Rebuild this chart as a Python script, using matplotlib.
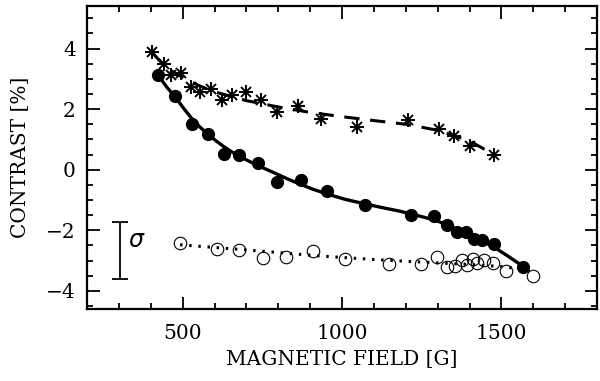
import numpy as np
import matplotlib.pyplot as plt
from matplotlib.ticker import MultipleLocator

# asterisks (dashed trend)
star_b = [403, 442, 463, 495, 525, 555, 589, 624, 654, 698, 746, 795, 861, 934,
          1046, 1206, 1304, 1352, 1402, 1478]
star_c = [3.88, 3.50, 3.11, 3.20, 2.73, 2.58, 2.65, 2.31, 2.47, 2.56, 2.29, 1.92,
          2.09, 1.68, 1.41, 1.65, 1.33, 1.11, 0.78, 0.49]
dash_b = [403, 450, 500, 550, 600, 700, 800, 900, 1000, 1100, 1200, 1300, 1400, 1478]
dash_c = [3.88, 3.35, 3.05, 2.78, 2.57, 2.28, 2.07, 1.89, 1.75, 1.62, 1.50, 1.30,
          0.95, 0.49]

# filled circles (solid trend)
fill_b = [424, 476, 528, 581, 631, 678, 735, 797, 871, 952, 1072, 1215, 1290,
          1330, 1360, 1388, 1414, 1438, 1477, 1569]
fill_c = [3.11, 2.42, 1.52, 1.19, 0.53, 0.50, 0.23, -0.41, -0.33, -0.71, -1.16,
          -1.51, -1.53, -1.82, -2.06, -2.06, -2.28, -2.33, -2.47, -3.21]
solid_b = [424, 450, 478, 505, 528, 555, 581, 605, 628, 655, 680, 710, 737, 765,
           795, 830, 871, 910, 952, 1010, 1072, 1125, 1181, 1235, 1290, 1340, 1388,
           1430, 1477, 1520, 1569]
solid_c = [3.10, 2.73, 2.38, 2.00, 1.70, 1.40, 1.15, 0.95, 0.77, 0.58, 0.43, 0.27,
           0.13, 0.00, -0.14, -0.31, -0.49, -0.65, -0.80, -0.98, -1.13, -1.25,
           -1.37, -1.51, -1.66, -1.86, -2.09, -2.30, -2.56, -2.85, -3.20]

# open circles (dotted trend)
open_b = [492, 607, 677, 753, 824, 910, 1009, 1147, 1248, 1297, 1328, 1354, 1375,
          1391, 1410, 1424, 1446, 1474, 1514, 1600]
open_c = [-2.42, -2.61, -2.66, -2.92, -2.88, -2.69, -2.94, -3.10, -3.10, -2.90,
          -3.23, -3.19, -2.98, -3.15, -2.94, -3.08, -2.99, -3.08, -3.36, -3.52]
dot_b = [492, 700, 931, 1150, 1250, 1400, 1500, 1600]
dot_c = [-2.48, -2.65, -2.85, -3.00, -3.05, -3.13, -3.20, -3.33]

sigma_b = 303
sigma_lo, sigma_hi = -3.60, -1.73

plt.rcParams['font.family'] = 'DejaVu Serif'
fig = plt.figure(figsize=(6, 3.81), dpi=100)
ax = fig.add_axes([0.145, 0.189, 0.850, 0.795])

ax.plot(dash_b, dash_c, c='k', lw=2.2, ls=(0, (5, 3.5)))
ax.plot(star_b, star_c, ls='none', marker='+', ms=10, mew=1.4, c='k')
ax.plot(star_b, star_c, ls='none', marker='x', ms=7.5, mew=1.4, c='k')

ax.plot(solid_b, solid_c, c='k', lw=2.4)
ax.plot(fill_b, fill_c, ls='none', marker='o', ms=8.5, c='k')

ax.plot(dot_b, dot_c, c='k', lw=2.2, ls=(0, (0.8, 2.2)))
ax.plot(open_b, open_c, ls='none', marker='o', ms=9, mfc='none', mec='k', mew=0.8)

ax.errorbar([sigma_b], [(sigma_lo + sigma_hi) / 2], yerr=[(sigma_hi - sigma_lo) / 2],
            c='k', lw=1.3, capsize=6, capthick=1.3)
ax.text(sigma_b + 25, -2.33, r'$\sigma$', fontsize=17, va='center', ha='left')

ax.set_xlim(200, 1800)
ax.set_ylim(-4.6, 5.4)
ax.xaxis.set_major_locator(MultipleLocator(500))
ax.xaxis.set_minor_locator(MultipleLocator(100))
ax.yaxis.set_major_locator(MultipleLocator(2))
ax.yaxis.set_minor_locator(MultipleLocator(0.5))
ax.tick_params(which='both', direction='in', top=True, right=True, width=1.3,
               labelsize=14.5)
ax.tick_params(which='major', length=9)
ax.tick_params(which='minor', length=4.5)
ax.tick_params(axis='x', pad=11)
ax.tick_params(axis='y', pad=8)
for s in ax.spines.values():
    s.set_linewidth(1.6)

ax.set_xlabel('MAGNETIC FIELD [G]', fontsize=14.5, labelpad=5)
ax.set_ylabel('CONTRAST [%]', fontsize=14.5, labelpad=12)

fig.savefig('out.png', dpi=100)
